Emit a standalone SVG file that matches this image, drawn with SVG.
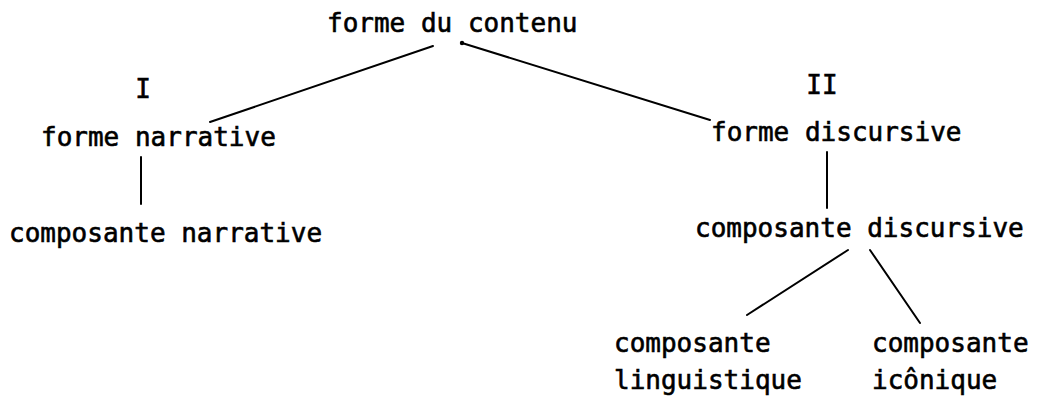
<svg xmlns="http://www.w3.org/2000/svg" width="1044" height="405" viewBox="0 0 1044 405">
<style>
text{font-family:"DejaVu Sans Mono","Liberation Mono",monospace;font-size:26px;fill:#000;stroke:#000;stroke-width:0.6}
.c line{stroke:#000;stroke-width:2;stroke-linecap:round}
</style>
<rect width="1044" height="405" fill="#fff"/>
<g class="c" id="connectors">
<line x1="433" y1="46" x2="210" y2="122"/>
<line x1="462" y1="43" x2="710" y2="120"/>
<circle cx="462" cy="43" r="2.2" fill="#000"/>
<line x1="141" y1="157" x2="141" y2="204"/>
<line x1="827" y1="152" x2="827" y2="208"/>
<line x1="848" y1="250" x2="747" y2="315"/>
<line x1="870" y1="250" x2="920" y2="323"/>
</g>
<g id="root"><text x="327" y="32">forme du contenu</text></g>
<g id="n1"><text x="143" y="98" text-anchor="middle">I</text><text x="41" y="146">forme narrative</text></g>
<g id="n1a"><text x="9" y="242">composante narrative</text></g>
<g id="n2"><text x="822" y="94" text-anchor="middle">II</text><text x="711" y="141">forme discursive</text></g>
<g id="n2a"><text x="695" y="237">composante discursive</text></g>
<g id="n2b"><text x="614" y="352">composante</text><text x="614" y="389">linguistique</text></g>
<g id="n2c"><text x="872" y="352">composante</text><text x="872" y="389">icônique</text></g>
</svg>
